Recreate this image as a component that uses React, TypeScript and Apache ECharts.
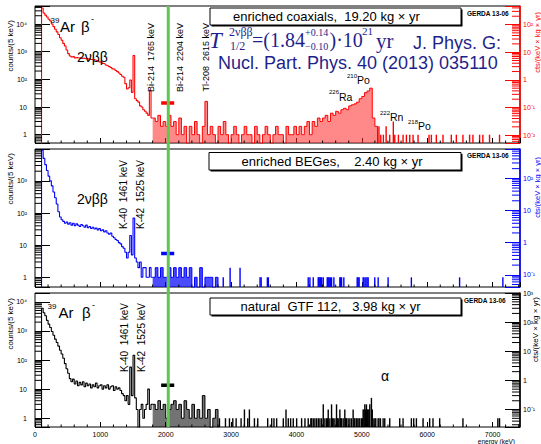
import React, { useEffect, useRef } from 'react';
import * as echarts from 'echarts';

// ---------------- data (counts per 5 keV bin) ----------------
const LOW_START = 100; // keV
const LOW_BIN = 25;
const MID_START = 1800;
const MID_BIN = 40;
const EMPTY = 0.1; // drawn below the axis for empty bins
const XMAX = 7420;
const QBB = 2039;
const bkgWindow = [1930, 2130];
const xTickLabels = [0, 1000, 2000, 3000, 4000, 5000, 6000, 7000];

const exposures = [19.2, 2.4, 3.98]; // kg x yr
const bkgLevels = [13.9, 5.5, 13.7];

const coaxLow = [
  38000, 25000, 21000, 18000, 15000, 13000, 10000, 8100, 6500, 5200,
  4200, 3200, 2600, 2000, 1600, 1150, 850, 700, 650, 680,
  600, 620, 590, 600, 570, 590, 560, 570, 540, 560,
  520, 530, 500, 480, 470, 430, 420, 380, 360, 330,
  310, 290, 270, 240, 230, 210, 190, 170, 150, 130,
  120, 70, 45, 50, 95, 34, 730, 20, 17, 15,
  11, 10, 8, 7, 6, 5, 40, 4,
];
const coaxMid = [
  4, 3, 5, 2, 3, 2, 5, 2, 3, 1,
  4, 1, 2, 0, 2, 1, 3, 1, 0, 2,
  16, 1, 2, 1, 0, 2, 1, 3, 1, 0,
  1, 2, 1, 0, 1, 2, 1, 1, 0, 2,
  1, 0, 1, 2, 1, 0, 1, 2, 1, 1,
  0, 2, 1, 1, 2, 1, 2, 1, 2, 3,
  1, 3, 2, 4, 3, 4, 5, 3, 6, 5,
  7, 6, 8, 9, 8, 11, 12, 13, 15, 20,
  24, 33, 38, 48, 4, 2,
];
const coaxEvents: [number, number][] = [
  [5262, 2], [5290, 1], [5330, 1], [5372, 2], [5427, 1], [5482, 3], [5504, 1], [5560, 1],
  [5631, 1], [5682, 1], [5733, 1], [5784, 1], [5860, 1], [6028, 1], [6064, 1], [6140, 1],
  [6242, 1], [6369, 1], [6446, 1], [6547, 1], [6649, 1], [6700, 1], [6802, 1], [6852, 1],
  [6954, 1], [7107, 1],
];

const begeLow = [
  9000, 5000, 3200, 2100, 1400, 1000, 700, 450, 300, 190,
  110, 75, 62, 55, 48, 52, 45, 50, 42, 48,
  40, 46, 42, 38, 44, 40, 36, 42, 35, 38,
  33, 36, 32, 34, 30, 33, 28, 30, 26, 28,
  24, 22, 24, 19, 17, 15, 14, 12, 11, 9,
  8, 6, 4, 6, 20, 5, 70, 4, 3, 2,
  3, 1, 2, 2, 1, 1, 2, 1,
];
const begeMid = [
  1, 2, 1, 2, 1, 1, 2, 1, 2, 1,
  2, 1, 2, 1, 2, 0, 1, 0, 2, 0,
  1, 1, 1, 0, 1,
];
const begeEvents: [number, number][] = [
  [2880, 1], [2985, 2], [3137, 2], [3443, 1], [3460, 1], [3555, 1], [3570, 1], [4180, 1],
  [4206, 1], [4257, 1], [4333, 1], [4346, 1], [4359, 1], [4372, 1], [4385, 1], [4410, 1],
  [4471, 1], [4486, 1], [4501, 1], [4520, 1], [4537, 1], [4573, 1], [4664, 1], [4677, 1],
  [4690, 1], [4725, 1], [4929, 1], [4944, 1], [4959, 1], [5020, 1], [5035, 1], [5061, 1],
  [5080, 1], [5097, 1], [5198, 1], [5250, 1], [5402, 1], [5758, 1], [6496, 1], [7158, 1],
];

const natLow = [
  6000, 4200, 3300, 2300, 1700, 1300, 950, 710, 520, 400,
  300, 215, 160, 115, 75, 50, 35, 23, 18, 22,
  15, 19, 13, 17, 14, 18, 12, 16, 13, 15,
  11, 14, 12, 16, 11, 13, 14, 10, 13, 11,
  14, 10, 12, 13, 9, 12, 10, 11, 9, 7,
  6, 4, 6, 3, 57, 6, 145, 5, 2, 0,
  2, 3, 1, 2, 3, 10, 2, 3,
];
const natMid = [
  3, 2, 4, 2, 3, 1, 2, 3, 4, 2,
  3, 1, 4, 2, 1, 3, 1, 2, 1, 6,
  1, 2, 0, 1, 2,
];
const natEvents: [number, number][] = [
  [2822, 1], [2914, 1], [2975, 1], [3026, 1], [3077, 1], [3153, 1], [3204, 2], [3255, 1],
  [3280, 2], [3357, 1], [3408, 1], [3560, 1], [3621, 1], [3656, 1], [3697, 1], [3799, 1],
  [3840, 2], [3875, 1], [3911, 1], [3951, 1], [4003, 1], [4079, 1], [4130, 1], [4180, 1],
  [4220, 1], [4232, 1], [4257, 1], [4282, 1], [4308, 1], [4334, 1], [4359, 1], [4385, 1],
  [4410, 3], [4435, 1], [4461, 1], [4474, 1], [4486, 2], [4511, 1], [4537, 3], [4550, 1],
  [4562, 1], [4588, 1], [4613, 3], [4626, 1], [4639, 1], [4664, 2], [4677, 1], [4690, 1],
  [4715, 1], [4740, 2], [4753, 1], [4766, 1], [4791, 1], [4817, 1], [4842, 1], [4867, 2],
  [4880, 1], [4893, 1], [4917, 1], [4929, 1], [4955, 1], [4969, 1], [4995, 1], [5008, 1],
  [5020, 2], [5033, 2], [5046, 3], [5059, 2], [5071, 3], [5084, 2], [5097, 2], [5110, 2],
  [5122, 3], [5147, 5], [5160, 2], [5173, 1], [5199, 1], [5214, 1], [5249, 1], [5262, 1],
  [5285, 1], [5326, 1], [5351, 1], [5427, 1], [5580, 1], [5631, 1], [5758, 1], [5794, 1],
  [5835, 1], [5937, 1], [6038, 1], [6089, 1], [6191, 1], [6547, 1], [7081, 1], [7107, 1],
];

const lows = [coaxLow, begeLow, natLow];
const mids = [coaxMid, begeMid, natMid];
const eventsList = [coaxEvents, begeEvents, natEvents];

// ---------------- layout / style ----------------
const SANS = '"Liberation Sans", Arial, Helvetica, sans-serif';
const SERIF = '"Liberation Serif", "Times New Roman", serif';
const NAVY = '#1f1f8c';
const GREEN = '#5cc850';
const PANELS = [
  { top: 6, height: 137, min: 0.5, max: 45000, color: '#ff0000', fill: 'rgba(255,40,40,0.55)' },
  { top: 149, height: 138, min: 0.5, max: 9800, color: '#0000ff', fill: 'rgba(0,0,255,0.7)' },
  { top: 293, height: 134, min: 0.5, max: 20000, color: '#000000', fill: 'rgba(0,0,0,0.55)' },
];
const GRID_LEFT = 35;
const GRID_WIDTH = 485;

const SUP: Record<string, string> = { '0': '⁰', '1': '¹', '2': '²', '3': '³', '4': '⁴', '5': '⁵', '6': '⁶', '7': '⁷', '8': '⁸', '9': '⁹', '-': '⁻' };
function logLabel(v: number): string {
  const l = Math.log10(v);
  const e = Math.round(l);
  if (Math.abs(l - e) > 1e-6) return '';
  if (e === 0) return '1';
  if (e === 1) return '10';
  return '10' + String(e).split('').map((c) => SUP[c]).join('');
}
const disp = (c: number) => (c > 0 ? c : EMPTY);

function lowSeriesData(low: number[], mid: number[]) {
  const pts: [number, number][] = [[LOW_START, EMPTY]];
  low.forEach((c, i) => pts.push([LOW_START + i * LOW_BIN, disp(c)]));
  pts.push([MID_START, disp(mid[0])]);
  return pts;
}
function midSeriesData(mid: number[]) {
  const pts: [number, number][] = [];
  mid.forEach((c, i) => pts.push([MID_START + i * MID_BIN, disp(c)]));
  const end = MID_START + mid.length * MID_BIN;
  pts.push([end, disp(mid[mid.length - 1])]);
  pts.push([end, EMPTY]);
  return pts;
}
function minorTickData(min: number, max: number, f: number) {
  const out: [number, number, number][] = [];
  for (let e = 200; e < XMAX; e += 200) if (e % 1000 !== 0) out.push([e, 1, 0]);
  for (let k = -3; k <= 5; k++) {
    for (let m = 2; m <= 9; m++) {
      const v = m * Math.pow(10, k);
      if (v > min && v < max) out.push([0, v, 1]);
      const w = v * f;
      if (w > min && w < max) out.push([0, w, 2]);
    }
  }
  return out;
}

function buildOption() {
  const grid: any[] = [];
  const xAxis: any[] = [];
  const yAxis: any[] = [];
  const series: any[] = [];
  PANELS.forEach((p, i) => {
    grid.push({ left: GRID_LEFT, top: p.top, width: GRID_WIDTH, height: p.height, show: true, borderColor: '#000', borderWidth: 1, backgroundColor: 'transparent' });
    xAxis.push({
      type: 'value', gridIndex: i, min: 0, max: XMAX, interval: 1000,
      axisLine: { show: false }, splitLine: { show: false },
      axisTick: { show: true, inside: true, length: 5, lineStyle: { color: '#000' } },
      axisLabel: {
        show: i === 2, fontSize: 7, color: '#000', margin: 4, fontFamily: SANS, showMaxLabel: false,
        formatter: (v: number) => (xTickLabels.includes(v) ? String(v) : ''),
      },
    });
  });
  PANELS.forEach((p, i) => {
    yAxis.push({
      type: 'log', logBase: 10, gridIndex: i, min: p.min, max: p.max, position: 'left',
      axisLine: { show: false }, splitLine: { show: false },
      axisTick: { show: true, inside: true, length: 15, lineStyle: { color: '#000' } },
      axisLabel: { fontSize: 7, color: '#000', margin: 8, fontFamily: SANS, formatter: logLabel },
    });
  });
  PANELS.forEach((p, i) => {
    const f = 5 * exposures[i];
    yAxis.push({
      type: 'log', logBase: 10, gridIndex: i, min: p.min / f, max: p.max / f, position: 'right',
      axisLine: { show: true, lineStyle: { color: p.color, width: 1.5 } }, splitLine: { show: false },
      axisTick: { show: true, inside: true, length: 15, lineStyle: { color: p.color } },
      axisLabel: { fontSize: 7, color: p.color, margin: 3, fontFamily: SANS, formatter: logLabel },
    });
  });
  PANELS.forEach((p, i) => {
    const f = 5 * exposures[i];
    series.push({
      type: 'line', xAxisIndex: i, yAxisIndex: i, step: 'end', symbol: 'none', silent: true, clip: true,
      data: lowSeriesData(lows[i], mids[i]), lineStyle: { color: p.color, width: 1.1 }, z: 3,
    });
    series.push({
      type: 'line', xAxisIndex: i, yAxisIndex: i, step: 'end', symbol: 'none', silent: true, clip: true,
      data: midSeriesData(mids[i]), lineStyle: { color: p.color, width: 1 }, areaStyle: { color: p.fill, opacity: 1 }, z: 3,
    });
    series.push({
      type: 'custom', xAxisIndex: i, yAxisIndex: i, silent: true, clip: true, z: 3,
      data: eventsList[i],
      renderItem: (params: any, api: any) => {
        const pt = api.coord([api.value(0), api.value(1)]);
        const cs = params.coordSys;
        const b = cs.y + cs.height;
        return { type: 'rect', shape: { x: pt[0] - 0.7, y: pt[1], width: 1.4, height: b - pt[1] }, style: { fill: p.color } };
      },
    });
    series.push({
      type: 'line', xAxisIndex: i, yAxisIndex: i, symbol: 'none', silent: true,
      data: [[bkgWindow[0], bkgLevels[i]], [bkgWindow[1], bkgLevels[i]]],
      lineStyle: { color: p.color, width: 3.5 }, z: 4,
    });
    series.push({
      type: 'custom', xAxisIndex: i, yAxisIndex: i, silent: true, z: 5,
      data: minorTickData(p.min, p.max, f),
      renderItem: (params: any, api: any) => {
        const cs = params.coordSys;
        const kind = api.value(2);
        if (kind === 0) {
          const x = api.coord([api.value(0), 1])[0];
          const b = cs.y + cs.height;
          return { type: 'line', shape: { x1: x, y1: b, x2: x, y2: b - 2.5 }, style: { stroke: '#000', lineWidth: 1 } };
        }
        const y = api.coord([1, api.value(1)])[1];
        if (kind === 1) {
          return { type: 'line', shape: { x1: cs.x, y1: y, x2: cs.x + 7, y2: y }, style: { stroke: '#000', lineWidth: 1 } };
        }
        const r = cs.x + cs.width;
        return { type: 'line', shape: { x1: r - 8, y1: y, x2: r, y2: y }, style: { stroke: p.color, lineWidth: 1 } };
      },
    });
  });
  return { animation: false, grid, xAxis, yAxis, series };
}

type TOpt = { rot?: boolean; serif?: boolean; italic?: boolean; bold?: boolean; color?: string; align?: string };
function T(text: string, x: number, y: number, size: number, o: TOpt = {}) {
  return {
    type: 'text', x, y, rotation: o.rot ? Math.PI / 2 : 0, z: 30, silent: true,
    style: {
      text, fontSize: size, fontFamily: o.serif ? SERIF : SANS,
      fontStyle: o.italic ? 'italic' : 'normal', fontWeight: o.bold ? 'bold' : 'normal',
      fill: o.color || '#000', align: o.align || (o.rot ? 'right' : 'left'), verticalAlign: 'middle',
    },
  };
}
function box(x: number, y: number, w: number, h: number) {
  return [
    { type: 'rect', z: 28, silent: true, shape: { x: x + 1.5, y: y + 1.5, width: w, height: h }, style: { fill: '#000' } },
    { type: 'rect', z: 29, silent: true, shape: { x, y, width: w, height: h }, style: { fill: '#fff', stroke: '#000', lineWidth: 1 } },
  ];
}
const S2 = '\u00a0\u00a0';

function buildGraphic(qx: number) {
  const g: any[] = [];
  g.push({ type: 'rect', z: 25, silent: true, shape: { x: qx - 1.5, y: 6, width: 3, height: 421 }, style: { fill: GREEN } });
  // panel 1
  g.push(T('39', 50.5, 20, 8), T('Ar', 60, 26, 15), T('β', 81, 26, 15), T('-', 91, 19, 9));
  g.push(T('2νββ', 77, 56.5, 14));
  g.push(T('Bi-214' + S2 + '1765 keV', 151, 23, 9, { rot: true }));
  g.push(T('Bi-214' + S2 + '2204 keV', 180, 23, 9, { rot: true }));
  g.push(T('Tl-208' + S2 + '2615 keV', 206, 23, 9, { rot: true }));
  g.push(...box(210, 8, 251, 17));
  g.push(T('enriched coaxials,' + S2 + '19.20 kg × yr', 233, 16.5, 13));
  g.push(T('GERDA 13-06', 467, 13, 6.5, { bold: true }));
  g.push(T('T', 209, 40, 23, { serif: true, italic: true, color: NAVY }));
  g.push(T('2νββ', 229, 32, 12, { serif: true, color: NAVY }));
  g.push(T('1/2', 230, 46, 12, { serif: true, color: NAVY }));
  g.push(T('=(1.84', 252, 40, 20, { serif: true, color: NAVY }));
  g.push(T('+0.14', 305, 32.5, 10, { serif: true, color: NAVY }));
  g.push(T('−0.10', 305, 46.5, 10, { serif: true, color: NAVY }));
  g.push(T(')·10', 329.5, 40, 20, { serif: true, color: NAVY }));
  g.push(T('21', 362, 31, 11, { serif: true, color: NAVY }));
  g.push(T('yr', 376, 41, 21, { serif: true, color: NAVY }));
  g.push(T('J. Phys. G:', 413, 42.5, 18, { color: NAVY }));
  g.push(T('Nucl. Part. Phys. 40 (2013) 035110', 218, 62.5, 18, { color: NAVY }));
  g.push(T('210', 347, 76, 6), T('Po', 357, 80, 10.5));
  g.push(T('226', 329, 92, 6), T('Ra', 339, 96.5, 10.5));
  g.push(T('222', 380, 113, 6), T('Rn', 390, 117, 10.5));
  g.push(T('218', 408, 122, 6), T('Po', 418, 126, 10.5));
  g.push(T('counts/(5 keV)', 10, 20, 8, { rot: true }));
  g.push(T('cts/(keV × kg × yr)', 537, 12, 7.5, { rot: true, color: PANELS[0].color }));
  // panel 2
  g.push(T('2νββ', 77, 198.5, 14));
  g.push(T('K-40' + S2 + '1461 keV', 123.5, 160, 10, { rot: true }));
  g.push(T('K-42' + S2 + '1525 keV', 140.5, 160, 10, { rot: true }));
  g.push(...box(209, 152.5, 252, 17.5));
  g.push(T('enriched BEGes,' + S2 + S2 + '2.40 kg × yr', 241.5, 161.5, 13));
  g.push(T('GERDA 13-06', 467, 155.5, 6.5, { bold: true }));
  g.push(T('counts/(5 keV)', 10, 153, 8, { rot: true }));
  g.push(T('cts/(keV × kg × yr)', 537, 157, 7.5, { rot: true, color: PANELS[1].color }));
  // panel 3
  g.push(T('39', 47.5, 306, 8), T('Ar', 58.5, 312, 15), T('β', 82, 312.5, 15), T('-', 92, 305, 9));
  g.push(T('K-40' + S2 + '1461 keV', 124, 303, 10, { rot: true }));
  g.push(T('K-42' + S2 + '1525 keV', 141, 303, 10, { rot: true }));
  g.push(...box(210, 298, 251, 17));
  g.push(T('natural' + S2 + 'GTF 112,' + S2 + '\u00a03.98 kg × yr', 240.5, 306.5, 13));
  g.push(T('GERDA 13-06', 464, 300, 6.5, { bold: true }));
  g.push(T('α', 385, 376, 14, { align: 'center' }));
  g.push(T('counts/(5 keV)', 10, 298, 8, { rot: true }));
  g.push(T('cts/(keV × kg × yr)', 535.5, 297, 8, { rot: true, color: '#000' }));
  g.push(T('energy (keV)', 515, 441.5, 6.5, { align: 'right' }));
  return g;
}

export default function App() {
  const ref = useRef<HTMLDivElement>(null);
  useEffect(() => {
    if (!ref.current) return;
    const chart = echarts.init(ref.current, null, { renderer: 'svg' });
    chart.setOption(buildOption() as any);
    const qx = chart.convertToPixel({ xAxisIndex: 0 }, QBB) as number;
    chart.setOption({ graphic: buildGraphic(qx) } as any);
    return () => chart.dispose();
  }, []);
  return <div ref={ref} style={{ position: 'fixed', left: 0, top: 0, width: 541, height: 444, background: '#fff' }} />;
}
